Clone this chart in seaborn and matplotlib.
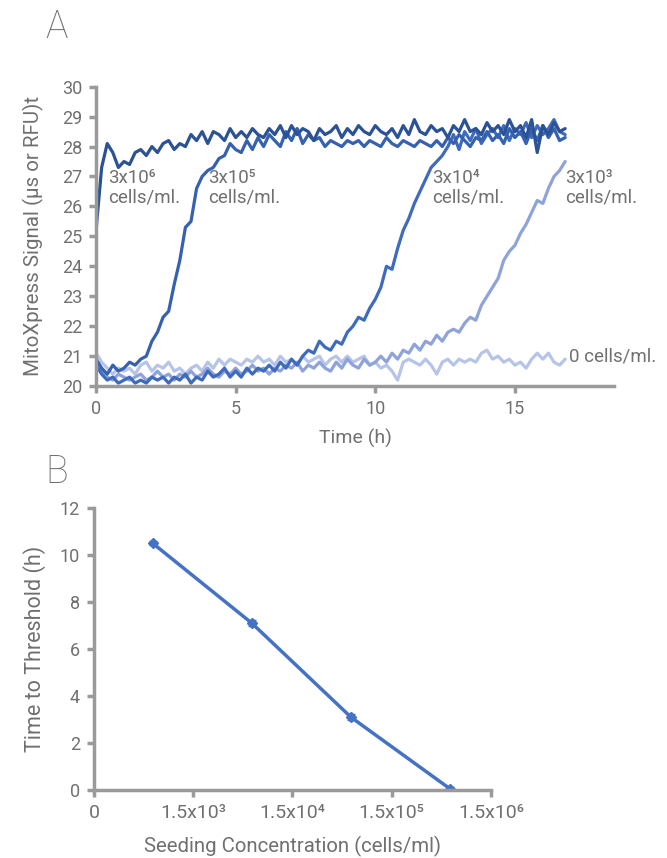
import numpy as np
import pandas as pd
import matplotlib
matplotlib.use("Agg")
import matplotlib.pyplot as plt
import seaborn as sns

# ---- panel A: oxygen consumption traces (signal vs time, sampled every 0.2 h)
time_h = np.round(np.arange(0, 16.81, 0.2), 1)

sig_3e6 = [25.2, 27.3, 28.1, 27.8, 27.3, 27.5, 27.4, 27.8, 27.9, 27.7,
           28.0, 27.8, 28.1, 28.2, 27.9, 28.1, 28.0, 28.4, 28.2, 28.5,
           28.1, 28.5, 28.4, 28.2, 28.6, 28.3, 28.5, 28.3, 28.6, 28.4,
           28.3, 28.6, 28.4, 28.7, 28.3, 28.7, 28.4, 28.6, 28.5, 28.2,
           28.6, 28.4, 28.5, 28.7, 28.3, 28.6, 28.4, 28.7, 28.5, 28.4,
           28.7, 28.5, 28.4, 28.6, 28.3, 28.7, 28.4, 28.9, 28.5, 28.4,
           28.7, 28.5, 28.6, 28.3, 28.7, 28.5, 28.9, 28.5, 28.6, 28.4,
           28.8, 28.5, 28.7, 28.4, 28.9, 28.5, 28.7, 28.3, 28.9, 27.8,
           28.7, 28.4, 28.8, 28.5, 28.6]
sig_3e5 = [20.9, 20.6, 20.4, 20.7, 20.5, 20.6, 20.8, 20.7, 20.9, 21.0,
           21.5, 21.8, 22.3, 22.5, 23.4, 24.2, 25.3, 25.5, 26.6, 27.0,
           27.2, 27.3, 27.6, 27.7, 28.1, 27.9, 27.8, 28.2, 27.9, 28.3,
           28.0, 28.4, 28.2, 28.0, 28.5, 28.2, 28.6, 28.1, 28.4, 28.2,
           28.3, 28.0, 28.2, 28.1, 28.0, 28.2, 28.1, 28.2, 28.0, 28.2,
           28.1, 28.0, 28.3, 28.1, 28.0, 28.2, 28.1, 28.0, 28.2, 28.1,
           28.0, 28.2, 28.0, 28.3, 28.1, 28.4, 28.2, 28.0, 28.3, 28.2,
           28.5, 28.2, 28.4, 28.1, 28.6, 28.3, 28.5, 28.1, 28.6, 28.2,
           28.7, 28.3, 28.6, 28.2, 28.3]
sig_3e4 = [20.7, 20.4, 20.2, 20.3, 20.1, 20.2, 20.3, 20.1, 20.2, 20.1,
           20.3, 20.2, 20.3, 20.1, 20.3, 20.2, 20.4, 20.1, 20.3, 20.2,
           20.5, 20.3, 20.4, 20.6, 20.3, 20.5, 20.3, 20.6, 20.4, 20.6,
           20.5, 20.7, 20.5, 20.8, 20.6, 20.9, 20.7, 21.0, 21.2, 21.1,
           21.5, 21.3, 21.2, 21.5, 21.4, 21.8, 22.0, 22.3, 22.2, 22.6,
           22.9, 23.3, 24.0, 23.9, 24.6, 25.2, 25.6, 26.1, 26.5, 26.9,
           27.3, 27.5, 27.7, 28.0, 28.4, 27.9, 28.5, 28.2, 28.6, 28.1,
           28.4, 28.6, 28.3, 28.7, 28.2, 28.6, 28.4, 28.8, 28.3, 28.7,
           28.4, 28.6, 28.9, 28.5, 28.4]
sig_3e3 = [20.6, 20.5, 20.3, 20.2, 20.4, 20.3, 20.2, 20.3, 20.4, 20.2,
           20.3, 20.5, 20.3, 20.4, 20.2, 20.4, 20.3, 20.5, 20.3, 20.4,
           20.6, 20.4, 20.3, 20.5, 20.4, 20.6, 20.4, 20.5, 20.7, 20.5,
           20.6, 20.4, 20.6, 20.5, 20.7, 20.6, 20.8, 20.5, 20.7, 20.6,
           20.8, 20.6, 20.5, 20.8, 20.6, 20.9, 20.7, 20.6, 20.9, 20.7,
           20.8, 21.0, 20.8, 21.1, 20.9, 21.2, 21.1, 21.4, 21.2, 21.5,
           21.4, 21.7, 21.5, 21.8, 21.9, 21.8, 22.1, 22.3, 22.2, 22.7,
           23.0, 23.3, 23.6, 24.2, 24.5, 24.7, 25.1, 25.4, 25.8, 26.2,
           26.1, 26.6, 27.0, 27.2, 27.5]
sig_0 = [21.1, 20.8, 20.6, 20.4, 20.6, 20.5, 20.6, 20.4, 20.7, 20.8,
         20.5, 20.7, 20.6, 20.8, 20.5, 20.6, 20.4, 20.6, 20.7, 20.5,
         20.8, 20.6, 20.9, 20.7, 20.9, 20.8, 20.7, 20.9, 20.8, 21.0,
         20.8, 20.9, 20.7, 21.0, 20.8, 20.9, 20.7, 21.0, 20.8, 20.9,
         21.0, 20.7, 20.9, 21.0, 20.8, 21.0, 20.8, 20.9, 21.0, 20.7,
         20.8, 20.6, 20.7, 20.5, 20.2, 20.8, 20.9, 20.8, 20.7, 20.9,
         20.7, 20.4, 20.8, 20.9, 20.7, 20.9, 20.8, 20.9, 20.8, 21.1,
         21.2, 20.9, 21.0, 20.8, 20.9, 20.7, 20.8, 20.6, 20.9, 21.1,
         20.9, 21.1, 20.8, 20.7, 20.9]

series_names = ["0", "3e3", "3e4", "3e5", "3e6"]
series_colors = ["#b6c4e7", "#8ea3da", "#3f6bbd", "#3561b0", "#2c5296"]

# ---- panel B: time to threshold vs seeding density
seeding = [3e3, 3e4, 3e5, 3e6]
threshold_h = [10.5, 7.1, 3.1, 0.05]
threshold_err = [0.08, 0.12, 0.12, 0.08]
b_tick_labels = ["0", "1.5x10³", "1.5x10⁴", "1.5x10⁵", "1.5x10⁶"]

sns.set_theme(style="white")
plt.rcParams["font.family"] = ["Roboto", "DejaVu Sans"]
txt = "#707070"
spine = "#9a9a9a"

df = pd.DataFrame({"time": np.tile(time_h, 5),
                   "signal": np.concatenate([sig_0, sig_3e3, sig_3e4, sig_3e5, sig_3e6]),
                   "sample": np.repeat(series_names, len(time_h))})

fig = plt.figure(figsize=(6.67, 8.58), dpi=100)
axA = fig.add_axes([0.144, 0.550, 0.777, 0.349])
axB = fig.add_axes([0.141, 0.079, 0.595, 0.329])

sns.lineplot(data=df, x="time", y="signal", hue="sample", hue_order=series_names,
             palette=series_colors, linewidth=2.3, legend=False, ax=axA)
axA.set_xlim(0, 18.56)
axA.set_ylim(20, 30)
axA.set_xticks([0, 5, 10, 15])
axA.set_yticks(range(20, 31))
axA.set_xlabel("Time (h)", color=txt, fontsize=14, labelpad=8)
axA.set_ylabel("MitoXpress Signal (µs or RFU)t", color=txt, fontsize=14.8, labelpad=13)

lab_kw = dict(color=txt, fontsize=13.5, va="top", ha="left", linespacing=1.1)
axA.text(0.45, 27.25, "3x10⁶\ncells/ml.", **lab_kw)
axA.text(4.0, 27.25, "3x10⁵\ncells/ml.", **lab_kw)
axA.text(12.05, 27.25, "3x10⁴\ncells/ml.", **lab_kw)
axA.text(16.8, 27.25, "3x10³\ncells/ml.", **lab_kw)
axA.text(16.95, 21.0, "0 cells/ml.", color=txt, fontsize=13.5, va="center", ha="left")

axB.errorbar(seeding, threshold_h, yerr=threshold_err, color="#4472c4", lw=2.5,
             marker="D", ms=5, capsize=3, elinewidth=1, ecolor="#4472c4")
axB.set_xscale("log")
axB.set_xlim(770, 7.7e6)
axB.set_xticks([770, 7.7e3, 7.7e4, 7.7e5, 7.7e6])
axB.set_xticklabels(b_tick_labels)
axB.minorticks_off()
axB.set_ylim(0, 12)
axB.set_yticks(range(0, 13, 2))
axB.set_xlabel("Seeding Concentration (cells/ml)", color=txt, fontsize=14.7, labelpad=10)
axB.set_ylabel("Time to Threshold (h)", color=txt, fontsize=15.5, labelpad=10)

for ax in (axA, axB):
    sns.despine(ax=ax)
    for s in ("left", "bottom"):
        ax.spines[s].set_color(spine)
        ax.spines[s].set_linewidth(2.5)
    ax.tick_params(axis="both", colors=spine, labelcolor=txt, labelsize=13,
                   direction="out", length=5, width=2.5, left=True, bottom=True, pad=5)
axB.tick_params(axis="x", labelsize=14)

fig.text(0.068, 0.990, "A", fontsize=27, color=txt, va="top", ha="left", fontweight="light")
fig.text(0.068, 0.472, "B", fontsize=27, color=txt, va="top", ha="left", fontweight="light")

fig.savefig("out.png", dpi=100)
